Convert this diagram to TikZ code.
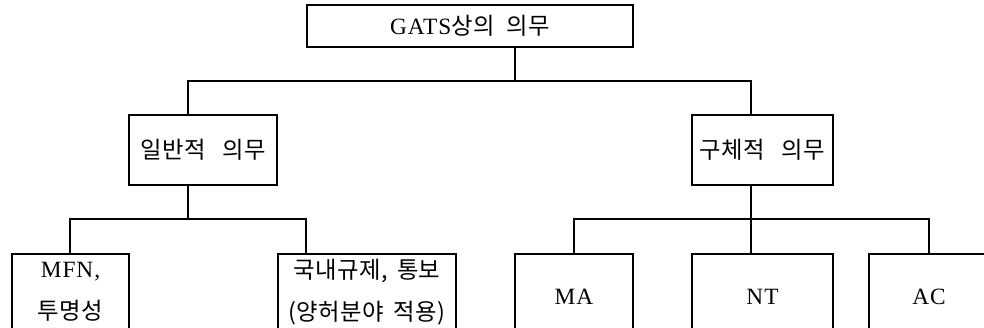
\documentclass[tikz,border=0pt]{standalone}
\usepackage{fontspec}
\setmainfont{Liberation Serif}[LetterSpace=4]
\newfontfamily\kr{Noto Sans CJK KR}[LetterSpace=2]
\begin{document}
\begin{tikzpicture}[x=0.75pt,y=-0.75pt,
  box/.style={draw,line width=0.8pt,inner sep=0pt,align=center,
    font=\fontsize{17.5}{31.5}\selectfont},
  conn/.style={line width=0.8pt}]
\useasboundingbox (0,0) rectangle (984,328);
\clip (0,0) rectangle (984,328);
% boxes
\node[box,minimum width=244.5pt,minimum height=31.5pt] (top) at (470,26)
  {GATS{\kr 상의\hspace{0.5em}의무}};
\node[box,minimum width=111pt,minimum height=52.5pt] (gen) at (203,150)
  {\kr 일반적\hspace{0.7em}의무};
\node[box,minimum width=105.75pt,minimum height=52.5pt] (spec) at (762.5,150)
  {\kr 구체적\hspace{0.7em}의무};
\node[box,minimum width=87.75pt,minimum height=57pt] (mfn) at (70.5,292)
  {MFN,\\{\kr 투명성}};
\node[box,minimum width=133.5pt,minimum height=57pt] (dom) at (367,292)
  {{\kr 국내규제,\hspace{0.4em}통보}\\{\kr (양허분야\hspace{0.4em}적용)}};
\node[box,minimum width=88.5pt,minimum height=64.5pt] (ma) at (574,297) {MA};
\node[box,minimum width=105.75pt,minimum height=64.5pt] (nt) at (762.5,297) {NT};
\node[box,minimum width=90pt,minimum height=64.5pt] (ac) at (929,297) {AC};
% junctions
\coordinate (j1) at (515,81);
\coordinate (hL) at (188,81);
\coordinate (hR) at (751,81);
\coordinate (gj) at (188,219);
\coordinate (gL) at (70,219);
\coordinate (gR) at (306,219);
\coordinate (sj) at (751,219);
\coordinate (sL) at (574,219);
\coordinate (sR) at (929,219);
% connectors
\draw[conn] (top.south -| j1) -- (j1);
\draw[conn] (gen.north -| hL) -- (hL) -- (hR) -- (spec.north -| hR);
\draw[conn] (gen.south -| gj) -- (gj);
\draw[conn] (mfn.north -| gL) -- (gL) -- (gR) -- (dom.north -| gR);
\draw[conn] (spec.south -| sj) -- (nt.north -| sj);
\draw[conn] (ma.north -| sL) -- (sL) -- (sR) -- (ac.north -| sR);
\end{tikzpicture}
\end{document}
